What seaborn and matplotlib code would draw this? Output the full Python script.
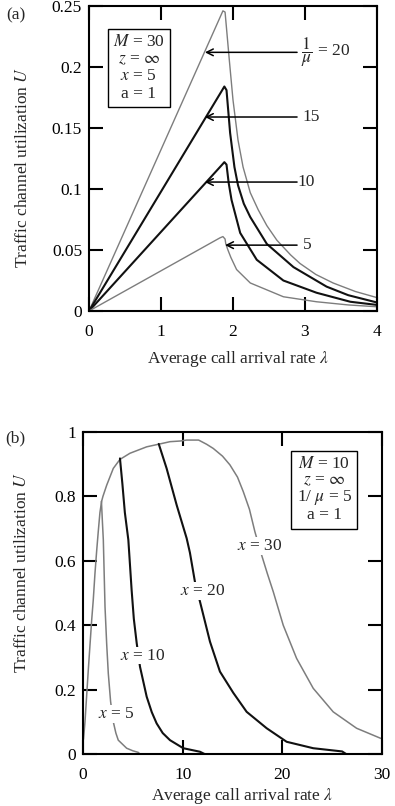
import numpy as np
import matplotlib
matplotlib.use("Agg")
import matplotlib.pyplot as plt
import seaborn as sns

# ---- panel (a): U vs lambda for 1/mu = 20, 15, 10, 5 (M=30, x=5) ----
lam_a20 = [0.0, 1.83, 1.86, 1.89, 1.95, 2.0, 2.07, 2.14, 2.24, 2.35, 2.47, 2.61, 2.8, 2.93, 3.15, 3.39, 3.7, 4.0]
u_a20 = [0.0, 0.242, 0.246, 0.245, 0.205, 0.173, 0.14, 0.118, 0.097, 0.083, 0.07, 0.058, 0.046, 0.039, 0.030, 0.023, 0.016, 0.011]

lam_a15 = [0.0, 1.85, 1.88, 1.91, 1.96, 2.02, 2.07, 2.15, 2.24, 2.47, 2.84, 3.30, 3.6, 4.0]
u_a15 = [0.0, 0.181, 0.184, 0.181, 0.146, 0.118, 0.103, 0.088, 0.077, 0.055, 0.036, 0.020, 0.013, 0.007]

lam_a10 = [0.0, 1.85, 1.88, 1.91, 1.94, 1.98, 2.10, 2.33, 2.70, 3.16, 3.63, 4.0]
u_a10 = [0.0, 0.120, 0.122, 0.120, 0.105, 0.091, 0.064, 0.042, 0.025, 0.015, 0.0076, 0.005]

lam_a5 = [0.0, 1.82, 1.86, 1.89, 1.90, 1.93, 1.97, 2.05, 2.24, 2.70, 3.16, 3.6, 4.0]
u_a5 = [0.0, 0.060, 0.061, 0.059, 0.055, 0.050, 0.044, 0.034, 0.023, 0.0117, 0.0076, 0.005, 0.0035]

# ---- panel (b): U vs lambda for x = 5, 10, 20, 30 (M=10, 1/mu=5) ----
lam_b30 = [0.05, 0.2, 0.53, 0.87, 1.03, 1.2, 1.37, 1.53, 1.7, 1.87, 2.0, 2.38, 3.04, 3.71, 4.71,
           6.39, 7.72, 8.73, 9.73, 10.4, 11.6, 12.4, 13.07, 14.0, 14.74, 15.5, 16.08, 16.7,
           17.25, 17.92, 18.5, 19.09, 20.09, 21.43, 23.1, 25.1, 27.45, 30.0]
u_b30 = [0.045, 0.1, 0.26, 0.415, 0.478, 0.56, 0.63, 0.69, 0.75, 0.785, 0.80, 0.835, 0.887, 0.915, 0.934,
         0.954, 0.963, 0.970, 0.972, 0.975, 0.975, 0.962, 0.949, 0.925, 0.898, 0.86, 0.815, 0.76,
         0.69, 0.618, 0.56, 0.504, 0.40, 0.297, 0.204, 0.131, 0.080, 0.047]

lam_b5 = [1.85, 1.95, 2.04, 2.21, 2.38, 2.54, 2.77, 3.04, 3.3, 3.54, 4.38, 5.0, 5.55, 5.7]
u_b5 = [0.785, 0.72, 0.665, 0.457, 0.34, 0.25, 0.163, 0.10, 0.065, 0.043, 0.018, 0.01, 0.005, 0.0]

lam_b10 = [3.71, 3.95, 4.2, 4.55, 4.65, 4.88, 5.1, 5.39, 5.72, 6.39, 6.9, 7.39, 8.0, 8.73, 10.06, 11.74, 12.2]
u_b10 = [0.918, 0.84, 0.75, 0.665, 0.618, 0.509, 0.42, 0.344, 0.271, 0.178, 0.13, 0.095, 0.065, 0.043, 0.018, 0.007, 0.0]

lam_b20 = [7.6, 8.39, 9.4, 10.4, 10.73, 11.23, 11.74, 12.74, 13.74, 15.08, 16.42, 18.43, 20.43, 23.1, 26.0, 26.4]
u_b20 = [0.963, 0.887, 0.773, 0.670, 0.625, 0.535, 0.473, 0.349, 0.256, 0.19, 0.131, 0.080, 0.038, 0.018, 0.008, 0.0]

a_xticks = [0, 1, 2, 3, 4]
a_yticks = [0, 0.05, 0.1, 0.15, 0.2, 0.25]
a_yticklabels = ["0", "0.05", "0.1", "0.15", "0.2", "0.25"]
b_xticks = [0, 10, 20, 30]
b_yticks = [0, 0.2, 0.4, 0.6, 0.8, 1.0]
b_yticklabels = ["0", "0.2", "0.4", "0.6", "0.8", "1"]

sns.set_style("ticks")
plt.rcParams["font.family"] = ["Liberation Serif", "DejaVu Serif"]
plt.rcParams["mathtext.fontset"] = "stix"

GRAY = "#7d7d7d"
BLACK = "#111111"
FS = 12.5

fig = plt.figure(figsize=(3.95, 8.06), dpi=100)
ax1 = fig.add_axes([0.2253, 0.6141, 0.7291, 0.3785])
ax2 = fig.add_axes([0.2101, 0.0645, 0.7570, 0.3995])


def line(ax, x, y, color, lw):
    sns.lineplot(x=x, y=y, ax=ax, color=color, lw=lw, estimator=None, sort=False)


line(ax1, lam_a20, u_a20, GRAY, 1.0)
line(ax1, lam_a15, u_a15, BLACK, 1.5)
line(ax1, lam_a10, u_a10, BLACK, 1.5)
line(ax1, lam_a5, u_a5, GRAY, 1.0)

line(ax2, lam_b30, u_b30, GRAY, 1.1)
line(ax2, lam_b5, u_b5, GRAY, 1.1)
line(ax2, lam_b10, u_b10, BLACK, 1.5)
line(ax2, lam_b20, u_b20, BLACK, 1.5)

for ax in (ax1, ax2):
    for s in ax.spines.values():
        s.set_visible(True)
        s.set_linewidth(1.5)
        s.set_color("black")
    ax.tick_params(direction="in", length=10, width=1.5, top=True, right=True,
                   labelsize=FS, colors="black")
    ax.tick_params(axis="x", pad=9)
    ax.tick_params(axis="y", pad=5)

ax1.set_xlim(0, 4)
ax1.set_ylim(0, 0.25)
ax1.set_xticks(a_xticks)
ax1.set_yticks(a_yticks)
ax1.set_yticklabels(a_yticklabels)
ax1.set_xlabel(r"Average call arrival rate $\lambda$", fontsize=FS)
ax1.set_ylabel(r"Traffic channel utilization $U$", fontsize=FS)
ax1.xaxis.set_label_coords(0.517, -0.125)
ax1.yaxis.set_label_coords(-0.20, 0.469)

ax2.set_xlim(0, 30)
ax2.set_ylim(0, 1)
ax2.set_xticks(b_xticks)
ax2.set_yticks(b_yticks)
ax2.set_yticklabels(b_yticklabels)
ax2.set_xlabel(r"Average call arrival rate $\lambda$", fontsize=FS)
ax2.set_ylabel(r"Traffic channel utilization $U$", fontsize=FS)
ax2.xaxis.set_label_coords(0.531, -0.099)
ax2.yaxis.set_label_coords(-0.177, 0.565)

# parameter boxes
box = dict(boxstyle="square,pad=0.3", fc="white", ec="black", lw=1.0)
ax1.text(0.173, 0.797, "$M$ = 30\n$z$ = $\\infty$\n$x$ = 5\na = 1", transform=ax1.transAxes,
         ha="center", va="center", ma="center", fontsize=FS, linespacing=1.1, bbox=box)
ax2.text(0.807, 0.82, "$M$ = 10\n$z$ = $\\infty$\n1/ $\\mu$ = 5\na = 1", transform=ax2.transAxes,
         ha="center", va="center", ma="center", fontsize=FS, linespacing=1.0, bbox=box)

# arrows in panel (a)
arrow = dict(arrowstyle="->", lw=1.1, color="black", shrinkA=0, shrinkB=0, mutation_scale=12)
ax1.annotate("", xy=(1.61, 0.212), xytext=(2.89, 0.212), arrowprops=arrow)
ax1.annotate("", xy=(1.61, 0.159), xytext=(2.89, 0.159), arrowprops=arrow)
ax1.annotate("", xy=(1.61, 0.1057), xytext=(2.89, 0.1057), arrowprops=arrow)
ax1.annotate("", xy=(1.89, 0.054), xytext=(2.89, 0.054), arrowprops=arrow)
ax1.text(2.95, 0.212, r"$\dfrac{1}{\mu}$ = 20", ha="left", va="center", fontsize=FS)
ax1.text(2.97, 0.159, "15", ha="left", va="center", fontsize=FS)
ax1.text(2.90, 0.1057, "10", ha="left", va="center", fontsize=FS)
ax1.text(2.97, 0.054, "5", ha="left", va="center", fontsize=FS)

# curve labels in panel (b)
lab = dict(facecolor="white", edgecolor="none", pad=0.5)
ax2.text(17.75, 0.646, "$x$ = 30", ha="center", va="center", fontsize=FS, bbox=lab)
ax2.text(12.04, 0.506, "$x$ = 20", ha="center", va="center", fontsize=FS, bbox=lab)
ax2.text(5.97, 0.305, "$x$ = 10", ha="center", va="center", fontsize=FS, bbox=lab)
ax2.text(3.38, 0.124, "$x$ = 5", ha="center", va="center", fontsize=FS, bbox=lab)

fig.text(15.5 / 395, 1 - 15 / 806, "(a)", ha="center", va="center", fontsize=FS)
fig.text(15.5 / 395, 1 - 438 / 806, "(b)", ha="center", va="center", fontsize=FS)

fig.savefig("out.png", dpi=100)
